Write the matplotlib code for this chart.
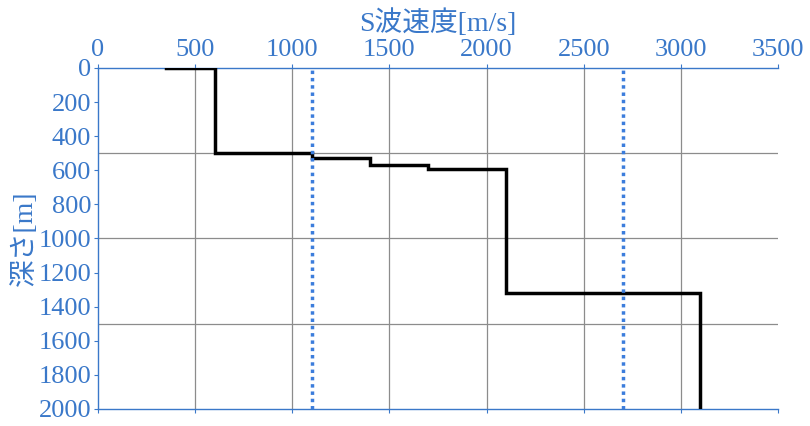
import matplotlib.pyplot as plt

# S波速度プロファイル (速度 m/s, 層下端深さ m)
velocity = [350, 600, 1100, 1400, 1700, 2100, 3100]
depth_top = [0, 0, 500, 530, 570, 590, 1320]
depth_bottom = [0, 500, 530, 570, 590, 1320, 2000]
ref_lines = [1100, 2700]

x_ticks = [0, 500, 1000, 1500, 2000, 2500, 3000, 3500]
y_ticks = [0, 200, 400, 600, 800, 1000, 1200, 1400, 1600, 1800, 2000]
y_grid = [500, 1000, 1500]

blue = "#3A78C9"
plt.rcParams["font.family"] = ["Liberation Serif", "Noto Sans CJK JP"]

fig = plt.figure(figsize=(8.1, 4.26), dpi=100)
ax = fig.add_axes([0.121, 0.040, 0.8395, 0.8005])

# 階段状の線を組み立てる
xs, ys = [], []
for v, d0, d1 in zip(velocity, depth_top, depth_bottom):
    xs += [v, v]
    ys += [d0, d1]
ax.plot(xs, ys, color="black", lw=2.5, solid_joinstyle="miter", zorder=3)

for xv in ref_lines:
    ax.axvline(xv, color="#3C7DDC", lw=2.5, linestyle=(0, (1, 1.1)), zorder=4)

for yv in y_grid:
    ax.axhline(yv, color="#8C8C8C", lw=0.9, zorder=1)
for xv in x_ticks[1:-1]:
    ax.axvline(xv, color="#8C8C8C", lw=0.9, zorder=1)

ax.set_xlim(0, 3500)
ax.set_ylim(2000, 0)
ax.set_xticks(x_ticks)
ax.set_yticks(y_ticks)
ax.xaxis.set_ticks_position("both")
ax.tick_params(axis="x", labeltop=True, labelbottom=False, direction="out",
               length=3, color=blue, labelcolor=blue, labelsize=19, pad=2)
ax.tick_params(axis="y", direction="out", length=3, color=blue,
               labelcolor=blue, labelsize=19, pad=2)

for side in ["left", "top", "bottom"]:
    ax.spines[side].set_color(blue)
    ax.spines[side].set_linewidth(1.0)
ax.spines["right"].set_visible(False)

ax.xaxis.set_label_position("top")
ax.set_xlabel("S波速度[m/s]", color=blue, fontsize=20, labelpad=6)
ax.set_ylabel("深さ[m]", color=blue, fontsize=20, labelpad=0)

fig.savefig("out.png", dpi=100)
